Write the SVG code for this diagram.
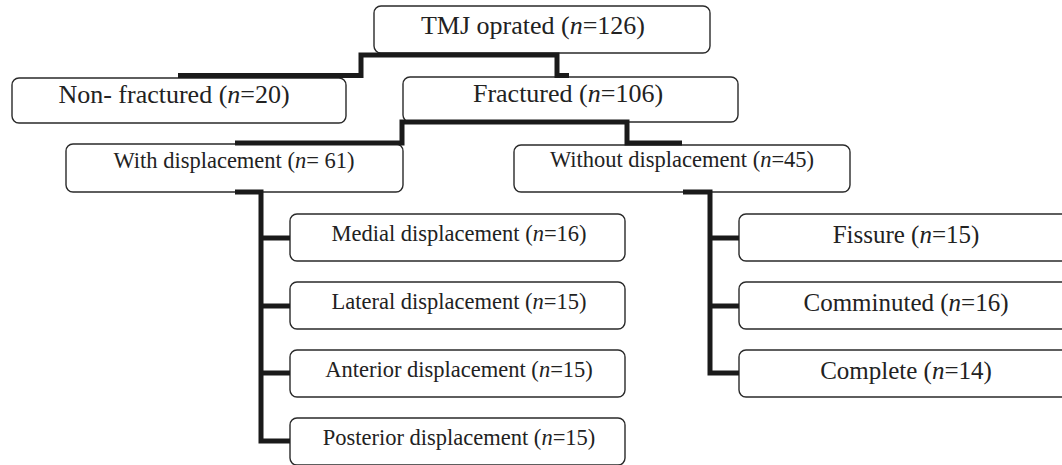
<svg xmlns="http://www.w3.org/2000/svg" width="1062" height="465" viewBox="0 0 1062 465">
<style>
.box{fill:#fff;stroke:#2a2a2a;stroke-width:1.4}
.t{font-family:"Liberation Serif","Times New Roman",serif;fill:#222;text-anchor:middle}
.big{font-size:26px}
.mid{font-size:22.5px}
.rs{font-size:25px}
.c{fill:none;stroke:#1a1a1a;stroke-width:5;stroke-linejoin:miter;stroke-linecap:butt}
</style>
<rect width="1062" height="465" fill="#fff"/>
<g id="n-tmj"><rect class="box" x="374" y="6" width="336" height="47" rx="7"/><text class="t big" x="533" y="34">TMJ oprated (<tspan font-style="italic">n</tspan>=126)</text></g>
<g id="n-nonfrac"><rect class="box" x="12" y="78" width="334" height="45" rx="7"/><text class="t big" x="174" y="103">Non- fractured (<tspan font-style="italic">n</tspan>=20)</text></g>
<g id="n-frac"><rect class="box" x="403" y="77" width="335" height="45" rx="7"/><text class="t big" x="568" y="102">Fractured (<tspan font-style="italic">n</tspan>=106)</text></g>
<g id="n-with"><rect class="box" x="66" y="144" width="337" height="48" rx="7"/><text class="t mid" x="234" y="168">With displacement (<tspan font-style="italic">n</tspan>= 61)</text></g>
<g id="n-without"><rect class="box" x="514" y="145" width="336" height="47" rx="7"/><text class="t mid" x="682" y="167">Without displacement (<tspan font-style="italic">n</tspan>=45)</text></g>
<g id="n-medial"><rect class="box" x="290" y="214" width="335" height="47" rx="7"/><text class="t mid" x="459" y="241">Medial displacement (<tspan font-style="italic">n</tspan>=16)</text></g>
<g id="n-lateral"><rect class="box" x="290" y="282" width="335" height="47" rx="7"/><text class="t mid" x="459" y="309">Lateral displacement (<tspan font-style="italic">n</tspan>=15)</text></g>
<g id="n-anterior"><rect class="box" x="290" y="350" width="335" height="47" rx="7"/><text class="t mid" x="459" y="377">Anterior displacement (<tspan font-style="italic">n</tspan>=15)</text></g>
<g id="n-posterior"><rect class="box" x="290" y="418" width="335" height="47" rx="7"/><text class="t mid" x="459" y="445">Posterior displacement (<tspan font-style="italic">n</tspan>=15)</text></g>
<g id="n-fissure"><rect class="box" x="739" y="214" width="336" height="47" rx="7"/><text class="t rs" x="906" y="243">Fissure (<tspan font-style="italic">n</tspan>=15)</text></g>
<g id="n-comminuted"><rect class="box" x="739" y="282" width="336" height="47" rx="7"/><text class="t rs" x="906" y="311">Comminuted (<tspan font-style="italic">n</tspan>=16)</text></g>
<g id="n-complete"><rect class="box" x="739" y="350" width="336" height="47" rx="7"/><text class="t rs" x="906" y="379">Complete (<tspan font-style="italic">n</tspan>=14)</text></g>
<g id="connectors">
<path class="c" d="M178 75.5 H361 V55 H557 V75.5 H569"/>
<path class="c" d="M235 143 H402 V122 H627 V143 H682"/>
<path class="c" d="M235 192 H261 V441 H290 M261 238 H290 M261 306 H290 M261 373 H290"/>
<path class="c" d="M683 192 H710 V373 H739 M710 238 H739 M710 306 H739"/>
</g>
</svg>
